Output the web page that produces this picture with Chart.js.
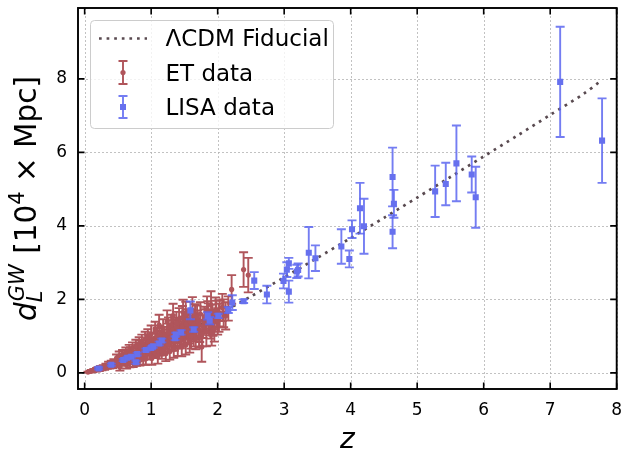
<!DOCTYPE html>
<html>
<head>
<meta charset="utf-8">
<script src="https://cdn.jsdelivr.net/npm/chart.js@4"></script>
<style>
  body { margin: 0; background: #fff; }
  canvas { display: block; }
</style>
</head>
<body>
<canvas id="dlChart" width="621" height="456"></canvas>
<script>
// fiducial LCDM curve
const fidZ = [0.05, 0.2, 0.4, 0.6, 0.8, 1.0, 1.25, 1.5, 1.75, 2.0, 2.5, 3.0, 3.5, 4.0, 4.5, 5.0, 5.5, 6.0, 6.5, 7.0, 7.5, 7.75];
const fidD = [0.02, 0.10, 0.22, 0.36, 0.51, 0.66, 0.88, 1.10, 1.34, 1.58, 2.08, 2.60, 3.13, 3.67, 4.22, 4.77, 5.33, 5.89, 6.45, 7.02, 7.59, 7.93];

// ET mock events
const etZ = [0.05, 0.08, 0.10, 0.12, 0.14, 0.16, 0.18, 0.20, 0.22, 0.24,
             0.26, 0.28, 0.30, 0.32, 0.34, 0.36, 0.38, 0.40, 0.42, 0.44,
             0.46, 0.48, 0.50, 0.52, 0.53, 0.55, 0.57, 0.58, 0.60, 0.62,
             0.63, 0.65, 0.67, 0.68, 0.70, 0.72, 0.73, 0.75, 0.77, 0.78,
             0.80, 0.82, 0.83, 0.85, 0.86, 0.88, 0.89, 0.91, 0.92, 0.94,
             0.95, 0.97, 0.98, 1.00, 1.01, 1.03, 1.04, 1.06, 1.07, 1.09,
             1.10, 1.12, 1.13, 1.15, 1.16, 1.18, 1.19, 1.21, 1.22, 1.24,
             1.25, 1.27, 1.28, 1.30, 1.31, 1.33, 1.34, 1.36, 1.37, 1.39,
             1.40, 1.42, 1.43, 1.45, 1.46, 1.48, 1.49, 1.51, 1.52, 1.54,
             1.55, 1.57, 1.58, 1.62, 1.61, 1.63, 1.64, 1.66, 1.68, 1.70,
             1.72, 1.74, 1.76, 1.78, 1.80, 1.83, 1.85, 1.87, 1.89, 1.90,
             1.92, 1.95, 1.97, 2.00, 2.03, 2.07, 2.12, 2.16, 2.21, 2.39,
             2.46, 0.81, 0.87, 0.93, 0.99, 1.05, 1.08, 1.11, 1.14, 1.17,
             1.20, 1.23, 1.26, 1.29, 1.32, 1.35, 1.38, 1.41, 1.44, 1.47,
             1.50, 1.53, 1.56, 1.59, 1.65, 1.67, 1.69, 1.71, 1.73, 1.81,
             1.86, 1.93, 1.98, 2.02, 2.09, 1.13, 1.26, 1.38, 1.47, 1.57,
             1.64, 1.77, 1.84, 1.91, 0.69, 0.84, 0.96, 1.09, 1.52, 1.60];
const etD = [0.02, 0.04, 0.06, 0.05, 0.08, 0.06, 0.10, 0.12, 0.08, 0.15,
             0.11, 0.17, 0.13, 0.20, 0.16, 0.24, 0.18, 0.27, 0.20, 0.30,
             0.23, 0.40, 0.26, 0.46, 0.15, 0.33, 0.50, 0.28, 0.37, 0.56,
             0.22, 0.41, 0.62, 0.26, 0.44, 0.68, 0.28, 0.48, 0.74, 0.32,
             0.52, 0.80, 0.34, 0.56, 0.86, 0.37, 0.60, 0.92, 0.38, 0.64,
             0.98, 0.53, 0.68, 1.06, 0.40, 0.73, 0.58, 1.14, 0.62, 0.78,
             0.44, 1.30, 0.67, 0.82, 0.58, 1.20, 0.72, 0.88, 0.52, 1.40,
             0.78, 0.94, 0.58, 1.30, 0.84, 1.56, 0.64, 1.20, 0.90, 1.06,
             0.70, 1.46, 0.96, 1.14, 0.70, 1.64, 1.02, 1.22, 0.76, 1.44,
             1.08, 1.28, 0.82, 1.70, 1.14, 1.34, 1.00, 1.56, 1.20, 1.40,
             0.98, 1.60, 0.70, 1.26, 1.48, 1.12, 1.62, 1.34, 1.29, 1.85,
             1.52, 1.20, 1.70, 1.40, 1.62, 1.78, 1.55, 1.75, 2.27, 2.81,
             2.66, 0.58, 0.64, 0.72, 0.78, 0.66, 0.86, 0.70, 0.92, 0.80,
             1.02, 0.86, 1.10, 0.96, 1.18, 0.84, 1.24, 1.10, 0.92, 1.26,
             1.06, 1.32, 1.18, 1.40, 1.24, 0.92, 1.52, 1.30, 1.14, 1.40,
             1.55, 1.36, 1.60, 1.50, 1.62, 1.04, 1.24, 1.36, 1.50, 1.10,
             1.30, 1.06, 1.72, 1.12, 0.54, 0.70, 0.84, 0.98, 1.60, 1.00];
const etErr = [0.01, 0.01, 0.02, 0.02, 0.02, 0.02, 0.03, 0.03, 0.03, 0.04,
               0.04, 0.04, 0.05, 0.05, 0.05, 0.06, 0.06, 0.06, 0.07, 0.07,
               0.07, 0.10, 0.08, 0.12, 0.09, 0.09, 0.12, 0.09, 0.10, 0.13,
               0.10, 0.11, 0.14, 0.11, 0.12, 0.15, 0.12, 0.13, 0.16, 0.13,
               0.14, 0.17, 0.14, 0.15, 0.18, 0.15, 0.16, 0.20, 0.16, 0.17,
               0.21, 0.17, 0.18, 0.23, 0.18, 0.19, 0.18, 0.25, 0.19, 0.20,
               0.19, 0.28, 0.20, 0.21, 0.20, 0.26, 0.21, 0.22, 0.20, 0.30,
               0.22, 0.23, 0.22, 0.28, 0.23, 0.32, 0.23, 0.26, 0.24, 0.25,
               0.24, 0.30, 0.25, 0.26, 0.25, 0.35, 0.26, 0.27, 0.26, 0.29,
               0.27, 0.28, 0.27, 0.36, 0.28, 0.29, 0.28, 0.31, 0.29, 0.30,
               0.29, 0.32, 0.40, 0.31, 0.32, 0.40, 0.33, 0.32, 0.36, 0.37,
               0.34, 0.35, 0.35, 0.36, 0.36, 0.37, 0.37, 0.33, 0.39, 0.47,
               0.47, 0.15, 0.16, 0.17, 0.19, 0.19, 0.21, 0.20, 0.22, 0.21,
               0.23, 0.22, 0.24, 0.23, 0.25, 0.24, 0.26, 0.25, 0.25, 0.27,
               0.26, 0.28, 0.27, 0.29, 0.28, 0.28, 0.31, 0.30, 0.30, 0.33,
               0.34, 0.35, 0.36, 0.38, 0.38, 0.24, 0.27, 0.30, 0.32, 0.30,
               0.33, 0.34, 0.36, 0.38, 0.16, 0.19, 0.21, 0.24, 0.33, 0.34];

// LISA mock events
const lisaZ = [0.21, 0.40, 0.58, 0.64, 0.70, 0.77, 0.79, 0.92, 1.00, 1.03,
               1.12, 1.16, 1.36, 1.37, 1.45, 1.59, 1.64, 1.85, 1.88, 2.01,
               2.16, 2.22, 2.39, 2.55, 2.74, 2.99, 3.04, 3.07, 3.07, 3.19,
               3.21, 3.37, 3.47, 3.86, 3.98, 4.02, 4.14, 4.20, 4.63, 4.65,
               4.63, 5.27, 5.43, 5.59, 5.82, 5.88, 7.15, 7.78];
const lisaD = [0.12, 0.22, 0.35, 0.41, 0.44, 0.29, 0.51, 0.62, 0.68, 0.72,
               0.80, 0.88, 0.94, 1.04, 1.10, 1.70, 1.18, 1.55, 1.42, 1.55,
               1.71, 1.91, 1.95, 2.51, 2.13, 2.50, 2.81, 2.98, 2.21, 2.76,
               2.80, 3.27, 3.12, 3.44, 3.10, 3.91, 4.48, 3.99, 5.33, 4.60,
               3.84, 4.94, 5.14, 5.70, 5.40, 4.78, 7.92, 6.32];
const lisaErr = [0.03, 0.03, 0.03, 0.03, 0.03, 0.04, 0.04, 0.04, 0.04, 0.04,
                 0.05, 0.05, 0.05, 0.05, 0.06, 0.24, 0.06, 0.10, 0.10, 0.06,
                 0.08, 0.20, 0.05, 0.23, 0.24, 0.20, 0.20, 0.15, 0.30, 0.18,
                 0.18, 0.70, 0.35, 0.47, 0.23, 0.24, 0.69, 0.75, 0.80, 0.38,
                 0.45, 0.70, 0.58, 1.03, 0.49, 0.83, 1.50, 1.15];

const xTicks = [0, 1, 2, 3, 4, 5, 6, 7, 8];
const yTicks = [0, 2, 4, 6, 8];

const FONT = 'DejaVu Sans';
const FID_COLOR = '#594a50';
const ET_COLOR = '#b0555b';
const LISA_COLOR = '#6670ee';
const LISA_BAR = 'rgba(92,102,240,0.85)';

function drawBar(ctx, x, top, bot, cap) {
  ctx.beginPath();
  ctx.moveTo(x, top); ctx.lineTo(x, bot);
  ctx.moveTo(x - cap, top); ctx.lineTo(x + cap, top);
  ctx.moveTo(x - cap, bot); ctx.lineTo(x + cap, bot);
  ctx.stroke();
}

// no extra room for tick labels hanging over the plot edges
function noPad(s) {
  s.paddingTop = 0; s.paddingBottom = 0; s.paddingLeft = 0; s.paddingRight = 0;
}

// error bars, drawn just before each dataset's markers
const errorBars = {
  id: 'errorBars',
  beforeDatasetDraw(chart, args) {
    const ds = chart.data.datasets[args.index];
    if (!ds.errors) return;
    const { ctx, scales: { x, y } } = chart;
    ctx.save();
    ctx.strokeStyle = ds.barColor;
    ctx.lineWidth = 1.9;
    ds.data.forEach((p, i) => {
      const px = x.getPixelForValue(p.x);
      drawBar(ctx, px, y.getPixelForValue(p.y + ds.errors[i]), y.getPixelForValue(p.y - ds.errors[i]), 4.5);
    });
    ctx.restore();
  }
};

// dotted grid, frame, inward ticks, legend and axis titles
const decorations = {
  id: 'decorations',
  beforeDatasetsDraw(chart) {
    const { ctx, chartArea: a, scales: { x, y } } = chart;
    ctx.save();
    ctx.strokeStyle = '#b3b3b3';
    ctx.lineWidth = 0.8;
    ctx.setLineDash([2, 2]);
    xTicks.forEach(v => {
      const px = Math.round(x.getPixelForValue(v)) + 0.5;
      ctx.beginPath(); ctx.moveTo(px, a.top); ctx.lineTo(px, a.bottom); ctx.stroke();
    });
    yTicks.forEach(v => {
      const py = Math.round(y.getPixelForValue(v)) + 0.5;
      ctx.beginPath(); ctx.moveTo(a.left, py); ctx.lineTo(a.right, py); ctx.stroke();
    });
    ctx.restore();
  },
  afterDraw(chart) {
    const { ctx, chartArea: a, scales: { x, y } } = chart;
    ctx.save();
    ctx.strokeStyle = '#000';
    ctx.lineWidth = 1.6;
    const tl = 6.5;
    xTicks.forEach(v => {
      const px = x.getPixelForValue(v);
      ctx.beginPath();
      ctx.moveTo(px, a.bottom); ctx.lineTo(px, a.bottom - tl);
      ctx.moveTo(px, a.top); ctx.lineTo(px, a.top + tl);
      ctx.stroke();
    });
    yTicks.forEach(v => {
      const py = y.getPixelForValue(v);
      ctx.beginPath();
      ctx.moveTo(a.left, py); ctx.lineTo(a.left + tl, py);
      ctx.moveTo(a.right, py); ctx.lineTo(a.right - tl, py);
      ctx.stroke();
    });
    ctx.lineWidth = 1.9;
    ctx.strokeRect(a.left, a.top, a.right - a.left, a.bottom - a.top);

    // legend
    ctx.beginPath();
    ctx.roundRect(90.5, 20.5, 243, 108, 4);
    ctx.fillStyle = 'rgba(255,255,255,0.8)';
    ctx.fill();
    ctx.strokeStyle = '#cccccc';
    ctx.lineWidth = 1;
    ctx.stroke();

    ctx.strokeStyle = FID_COLOR;
    ctx.lineWidth = 2.7;
    ctx.setLineDash([2.7, 4.9]);
    ctx.beginPath(); ctx.moveTo(99, 38.5); ctx.lineTo(147, 38.5); ctx.stroke();
    ctx.setLineDash([]);

    ctx.strokeStyle = ET_COLOR;
    ctx.lineWidth = 1.9;
    drawBar(ctx, 123, 61, 84, 4.5);
    ctx.fillStyle = ET_COLOR;
    ctx.beginPath(); ctx.arc(123, 72.5, 2.6, 0, Math.PI * 2); ctx.fill();

    ctx.strokeStyle = LISA_BAR;
    drawBar(ctx, 123, 96, 118, 4.5);
    ctx.fillStyle = LISA_COLOR;
    ctx.fillRect(120, 104, 6, 6);

    ctx.fillStyle = '#000';
    ctx.font = `23px "${FONT}"`;
    ctx.textAlign = 'left';
    ctx.textBaseline = 'alphabetic';
    ctx.fillText('ΛCDM Fiducial', 165.5, 45.5);
    ctx.fillText('ET data', 165.5, 81);
    ctx.fillText('LISA data', 165.5, 115);

    // x title
    ctx.font = `italic 28px "${FONT}"`;
    ctx.textAlign = 'center';
    ctx.fillText('z', (a.left + a.right) / 2, 448);

    // y title with sub/superscripts
    const big = `29.5px "${FONT}"`, bigIt = `italic 29.5px "${FONT}"`, small = `21px "${FONT}"`, smallIt = `italic 21px "${FONT}"`;
    const parts = [
      { t: 'd', f: bigIt, dy: 0 },
      { t: 'L', f: smallIt, dy: 6, stackWith: { t: 'GW', f: smallIt, dy: -12 } },
      { t: ' [10', f: big, dy: 0 },
      { t: '4', f: small, dy: -12 },
      { t: ' × Mpc]', f: big, dy: 0 }
    ];
    let total = 0;
    parts.forEach(p => {
      ctx.font = p.f; let w = ctx.measureText(p.t).width;
      if (p.stackWith) { ctx.font = p.stackWith.f; w = Math.max(w, ctx.measureText(p.stackWith.t).width); }
      p.w = w + (p.stackWith ? 2 : 0); total += p.w;
    });
    ctx.translate(36, (a.top + a.bottom) / 2);
    ctx.rotate(-Math.PI / 2);
    ctx.textAlign = 'left';
    let cx = -total / 2;
    parts.forEach(p => {
      ctx.font = p.f; ctx.fillText(p.t, cx, p.dy);
      if (p.stackWith) { ctx.font = p.stackWith.f; ctx.fillText(p.stackWith.t, cx + 1, p.stackWith.dy); }
      cx += p.w;
    });
    ctx.restore();
  }
};

const ctx = document.getElementById('dlChart').getContext('2d');
new Chart(ctx, {
  type: 'scatter',
  data: {
    datasets: [
      {
        label: 'ΛCDM Fiducial',
        type: 'line',
        data: fidZ.map((z, i) => ({ x: z, y: fidD[i] })),
        borderColor: FID_COLOR,
        borderWidth: 2.7,
        borderDash: [2.7, 4.9],
        pointRadius: 0,
        tension: 0.3,
        fill: false,
        order: 3
      },
      {
        label: 'ET data',
        data: etZ.map((z, i) => ({ x: z, y: etD[i] })),
        errors: etErr,
        barColor: ET_COLOR,
        backgroundColor: ET_COLOR,
        borderWidth: 0,
        pointRadius: 2.6,
        order: 2
      },
      {
        label: 'LISA data',
        data: lisaZ.map((z, i) => ({ x: z, y: lisaD[i] })),
        errors: lisaErr,
        barColor: LISA_BAR,
        backgroundColor: LISA_COLOR,
        borderWidth: 0,
        pointStyle: 'rect',
        pointRadius: 4.3,
        order: 1
      }
    ]
  },
  options: {
    responsive: false,
    animation: false,
    devicePixelRatio: 1,
    layout: { padding: { top: 8, right: 3, left: 0, bottom: 0 } },
    plugins: { legend: { display: false }, tooltip: { enabled: false } },
    scales: {
      x: {
        type: 'linear',
        min: -0.1,
        max: 8.0,
        afterBuildTicks: s => { s.ticks = xTicks.map(v => ({ value: v })); },
        afterFit: s => { s.height = 67; noPad(s); },
        grid: { display: false, drawTicks: false },
        border: { display: false },
        ticks: { color: '#000', font: { family: FONT, size: 17 }, padding: 11, maxRotation: 0 }
      },
      y: {
        type: 'linear',
        min: -0.44,
        max: 9.93,
        afterBuildTicks: s => { s.ticks = yTicks.map(v => ({ value: v })); },
        afterFit: s => { s.width = 78; noPad(s); },
        grid: { display: false, drawTicks: false },
        border: { display: false },
        ticks: { color: '#000', font: { family: FONT, size: 17 }, padding: 11 }
      }
    }
  },
  plugins: [errorBars, decorations]
});
</script>
</body>
</html>
